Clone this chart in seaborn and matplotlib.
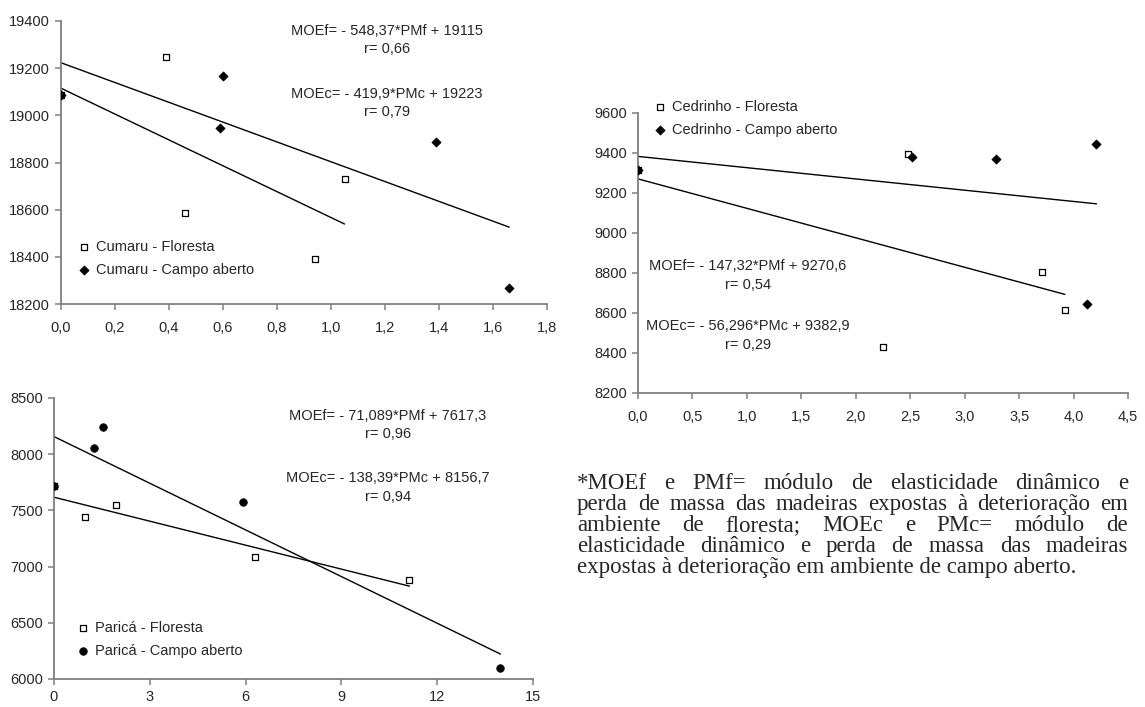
import numpy as np
import pandas as pd
import seaborn as sns
import matplotlib.pyplot as plt
from matplotlib.ticker import FuncFormatter, MultipleLocator

# ---- data ----
# Cumaru
cum_flo_x = [0.0, 0.39, 0.46, 0.94, 1.05]
cum_flo_y = [19085, 19247, 18585, 18390, 18730]
cum_cam_x = [0.0, 0.59, 0.60, 1.39, 1.66]
cum_cam_y = [19085, 18946, 19167, 18887, 18268]
# Cedrinho
ced_flo_x = [0.0, 2.25, 2.48, 3.71, 3.92]
ced_flo_y = [9313, 8428, 9396, 8803, 8617]
ced_cam_x = [0.0, 2.52, 3.29, 4.12, 4.21]
ced_cam_y = [9313, 9378, 9368, 8643, 9445]
# Parica
par_flo_x = [0.0, 0.98, 1.95, 6.28, 11.13]
par_flo_y = [7714, 7444, 7545, 7085, 6877]
par_cam_x = [0.0, 1.26, 1.54, 5.93, 13.98]
par_cam_y = [7714, 8058, 8239, 7571, 6094]

# fitted lines (slope, intercept) as printed on the chart
cum_fit = {"f": (-548.37, 19115), "c": (-419.9, 19223)}
ced_fit = {"f": (-147.32, 9270.6), "c": (-56.296, 9382.9)}
par_fit = {"f": (-71.089, 7617.3), "c": (-138.39, 8156.7)}

cum_eq = ["MOEf= - 548,37*PMf + 19115", "r= 0,66", "MOEc= - 419,9*PMc + 19223", "r= 0,79"]
ced_eq = ["MOEf= - 147,32*PMf + 9270,6", "r= 0,54", "MOEc= - 56,296*PMc + 9382,9", "r= 0,29"]
par_eq = ["MOEf= - 71,089*PMf + 7617,3", "r= 0,96", "MOEc= - 138,39*PMc + 8156,7", "r= 0,94"]

note_lines = ["*MOEf e PMf= módulo de elasticidade dinâmico e",
              "perda de massa das madeiras expostas à deterioração em",
              "ambiente de floresta; MOEc e PMc= módulo de",
              "elasticidade dinâmico e perda de massa das madeiras",
              "expostas à deterioração em ambiente de campo aberto."]

sns.set_style("ticks")
plt.rcParams['font.family'] = ['Liberation Sans', 'DejaVu Sans']
plt.rcParams['font.size'] = 10.5

W, H = 1145, 707
fig = plt.figure(figsize=(W / 100, H / 100), dpi=100)


def px_axes(l, t, r, b):
    return fig.add_axes([l / W, 1 - b / H, (r - l) / W, (b - t) / H])


def comma(dec):
    return FuncFormatter(lambda v, p: f"{v:.{dec}f}".replace('.', ','))


def panel(ax, fx, fy, cx, cy, fit, names, cmark, xlim, xstep, xdec, ylim, ystep, xpad=8):
    # fitted lines over each series' range
    for key, xs in (("f", fx), ("c", cx)):
        m, b = fit[key]
        xx = np.array([min(xs), max(xs)])
        sns.lineplot(x=xx, y=m * xx + b, color='black', lw=1, ax=ax, legend=False)
    sns.scatterplot(x=fx, y=fy, marker='s', s=22, facecolor='white', edgecolor='black',
                    linewidth=0.9, ax=ax, label=names[0], zorder=3)
    if cmark == 'D':
        sns.scatterplot(x=cx, y=cy, marker='D', s=22, color='black', edgecolor='black',
                        linewidth=0.5, ax=ax, label=names[1], zorder=4)
    else:
        sns.scatterplot(x=cx, y=cy, marker='o', s=30, color='black', edgecolor='black',
                        linewidth=0.5, ax=ax, label=names[1], zorder=4)
    ax.set_xlim(*xlim)
    ax.set_ylim(*ylim)
    ax.xaxis.set_major_locator(MultipleLocator(xstep))
    ax.yaxis.set_major_locator(MultipleLocator(ystep))
    ax.xaxis.set_major_formatter(comma(xdec))
    ax.yaxis.set_major_formatter(comma(0))
    sns.despine(ax=ax)
    for s in ('left', 'bottom'):
        ax.spines[s].set_color('#7f7f7f')
        ax.spines[s].set_linewidth(1.3)
    ax.tick_params(length=4, width=1.1, color='#7f7f7f', labelsize=10.5, pad=4)
    ax.tick_params(axis='x', pad=xpad)
    ax.set_xlabel('')
    ax.set_ylabel('')


def equations(lines, cx, ys):
    for txt, y in zip(lines, ys):
        fig.text(cx / W, 1 - y / H, txt, ha='center', va='center', fontsize=10.5)


def legend(ax, x, y):
    ax.legend(loc='upper left', bbox_to_anchor=(x / W, 1 - y / H), bbox_transform=fig.transFigure,
              frameon=False, handlelength=0.6, handletextpad=0.5, labelspacing=0.62,
              borderaxespad=0, borderpad=0, fontsize=10.5)


ax1 = px_axes(61, 21, 547, 304)
panel(ax1, cum_flo_x, cum_flo_y, cum_cam_x, cum_cam_y, cum_fit,
      ["Cumaru - Floresta", "Cumaru - Campo aberto"], 'D',
      (0, 1.8), 0.2, 1, (18200, 19400), 200)
legend(ax1, 80, 240)
equations(cum_eq, 387, [31, 49, 94, 112])

ax2 = px_axes(638, 113, 1128, 393)
panel(ax2, ced_flo_x, ced_flo_y, ced_cam_x, ced_cam_y, ced_fit,
      ["Cedrinho - Floresta", "Cedrinho - Campo aberto"], 'D',
      (0, 4.5), 0.5, 1, (8200, 9600), 200)
legend(ax2, 656, 100)
equations(ced_eq, 748, [266, 285, 326, 345])

ax3 = px_axes(54, 398, 533, 679)
panel(ax3, par_flo_x, par_flo_y, par_cam_x, par_cam_y, par_fit,
      ["Paricá - Floresta", "Paricá - Campo aberto"], 'o',
      (0, 15), 3, 0, (6000, 8500), 500, xpad=4)
legend(ax3, 79, 621)
equations(par_eq, 388, [416, 434, 478, 497])

# justified footnote
fig.canvas.draw()
rend = fig.canvas.get_renderer()
x0, x1 = 577, 1128
note_base = [489, 510, 531, 552, 573]
for i, (line, y) in enumerate(zip(note_lines, note_base)):
    kw = dict(va='baseline', ha='left', fontsize=16.5, family=['Liberation Serif', 'DejaVu Serif'])
    if i == len(note_lines) - 1:
        fig.text(x0 / W, 1 - y / H, line, **kw)
        continue
    words = line.split(' ')
    texts = [fig.text(0, 1 - y / H, w, **kw) for w in words]
    widths = [t.get_window_extent(rend).width for t in texts]
    gap = (x1 - x0 - sum(widths)) / (len(words) - 1)
    x = x0
    for t, w in zip(texts, widths):
        t.set_x(x / W)
        x += w + gap

fig.savefig('out.png', dpi=100)
